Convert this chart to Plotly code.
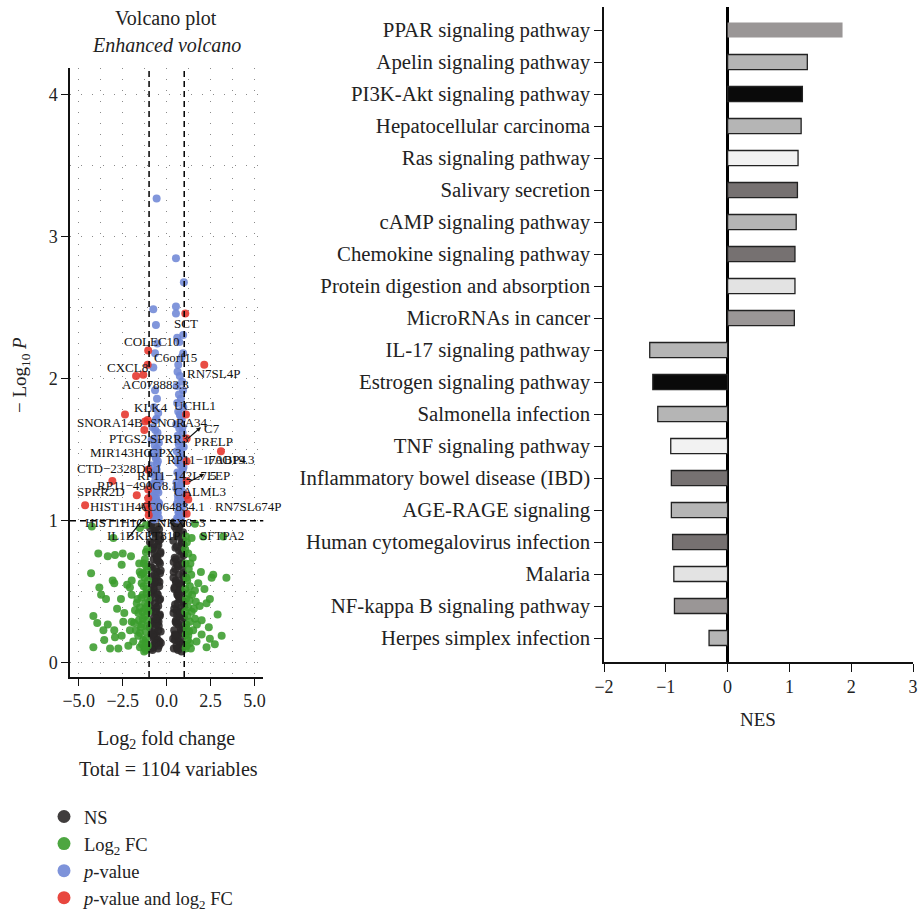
import plotly.graph_objects as go

W, H = 924, 913
FONT = "Liberation Serif"

# ---------------- Volcano data ----------------
NS_L_x = [-0.88,-0.52,-0.71,-0.40,-0.63,-0.95,-0.47,-0.80,-0.35,-0.58,
          -0.74,-0.44,-0.91,-0.61,-0.38,-0.83,-0.50,-0.68,-0.42,-0.77,
          -0.56,-0.93,-0.37,-0.65,-0.48,-0.86,-0.60,-0.39,-0.72,-0.53,
          -0.82,-0.45,-0.67,-0.34,-0.89,-0.57,-0.75,-0.41,-0.62,-0.79,
          -0.49,-0.94,-0.36,-0.70,-0.54,-0.85,-0.43,-0.64,-0.97,-0.51,
          -0.73,-0.38,-0.59,-0.87,-0.46,-0.69,-0.33,-0.81,-0.55,-0.66,
          -0.90,-0.62,-0.45,-0.78,-0.36,-0.55,-0.84,-0.68,-0.41,-0.73,
          -0.50,-0.96,-0.59,-0.39,-0.81,-0.47,-0.70,-0.63,-0.87,-0.43,
          -0.76,-0.53,-0.34,-0.66,-0.92,-0.57,-0.80,-0.44,-0.71,-0.60]
NS_L_y = [0.98,0.96,0.93,0.90,0.88,0.85,0.83,0.80,0.78,0.75,
          0.73,0.71,0.68,0.66,0.63,0.61,0.58,0.56,0.54,0.51,
          0.49,0.47,0.45,0.42,0.40,0.38,0.36,0.34,0.32,0.30,
          0.28,0.26,0.24,0.22,0.20,0.19,0.17,0.15,0.13,0.12,
          0.10,0.95,0.87,0.77,0.64,0.55,0.44,0.35,0.25,0.16,
          0.11,0.70,0.60,0.50,0.29,0.21,0.14,0.09,0.82,0.92,
          0.97,0.91,0.86,0.81,0.77,0.72,0.67,0.62,0.57,0.52,
          0.48,0.43,0.39,0.33,0.29,0.23,0.18,0.14,0.10,0.94,
          0.84,0.74,0.65,0.46,0.37,0.27,0.20,0.12,0.57,0.31]
NS_R_x = [0.42,0.77,0.55,0.93,0.64,0.38,0.86,0.50,0.71,0.98,
          0.46,0.82,0.59,0.90,0.40,0.68,0.95,0.53,0.79,0.44,
          0.88,0.61,0.74,0.97,0.48,0.84,0.57,0.39,0.72,0.92,
          0.51,0.66,0.99,0.43,0.81,0.62,0.89,0.47,0.76,0.56,
          0.94,0.41,0.69,0.85,0.52,0.96,0.45,0.73,0.60,0.87,
          0.37,0.80,0.65,0.91,0.49,0.70,1.00,0.54,0.83,0.58,
          0.45,0.70,0.92,0.58,0.83,0.40,0.66,0.96,0.52,0.78,
          0.61,0.88,0.43,0.74,0.99,0.55,0.81,0.47,0.69,0.94,
          0.59,0.85,0.39,0.75,0.63,0.90,0.50,0.79,0.67,0.97]
NS_R_y = [0.99,0.97,0.94,0.92,0.89,0.86,0.84,0.81,0.79,0.76,
          0.74,0.72,0.69,0.67,0.64,0.62,0.59,0.57,0.55,0.52,
          0.50,0.48,0.46,0.43,0.41,0.39,0.37,0.35,0.33,0.31,
          0.29,0.27,0.25,0.23,0.21,0.19,0.18,0.16,0.14,0.12,
          0.11,0.10,0.95,0.85,0.73,0.63,0.53,0.45,0.34,0.26,
          0.17,0.13,0.09,0.78,0.66,0.56,0.40,0.30,0.22,0.90,
          0.96,0.91,0.87,0.82,0.77,0.71,0.68,0.61,0.58,0.54,
          0.49,0.44,0.38,0.36,0.32,0.28,0.24,0.20,0.15,0.13,
          0.10,0.08,0.60,0.51,0.42,0.70,0.19,0.35,0.47,0.83]

FC_x = [-3.89,-3.35,-2.94,-2.50,-2.56,-2.03,-1.56,-1.18,-4.30,-3.07,
        -2.98,-3.83,-3.73,-1.99,-2.09,-1.46,-1.42,-1.36,-1.99,-1.70,
        -4.17,-2.41,-2.47,-3.35,-3.60,-2.98,-2.94,-3.55,-2.56,-2.09,
        -1.99,-1.61,-1.80,-1.42,-1.52,-1.33,-4.17,-3.22,-2.75,-2.18,
        -1.52,-1.18,-1.23,-1.23,-1.52,-1.12,-1.15,-1.25,-1.10,-1.30,
        -1.12,-1.20,-1.08,-1.38,-1.28,-4.26,-3.03,-1.52,-1.18,
        -1.06,-1.14,-1.22,-1.35,-1.48,-1.62,-1.09,-1.18,-1.27,-1.44,
        -1.58,-1.75,-1.05,-1.16,-1.31,-1.40,-1.66,-1.11,-1.24,-1.53,
        -1.85,-1.07,-1.19,-1.34,-1.90,-2.25,-2.60,-2.82,-3.45,-3.95,
        1.23,1.48,1.95,2.65,2.56,1.80,1.32,1.61,1.23,1.66,
        2.46,2.27,1.23,1.42,1.61,1.99,1.32,1.14,1.51,1.99,
        2.46,3.13,1.70,2.27,2.74,1.32,1.23,1.08,1.12,1.10,
        1.18,1.08,1.40,1.15,1.06,1.10,1.42,3.22,1.61,2.08,
        1.06,1.12,1.20,1.30,1.45,1.09,1.17,1.26,1.38,1.55,
        1.05,1.14,1.28,1.72,1.88,2.15,2.40,2.90,3.40,1.35]
FC_y = [0.77,0.75,0.76,0.77,0.69,0.75,0.70,0.78,0.63,0.58,
        0.56,0.53,0.48,0.58,0.53,0.62,0.56,0.48,0.48,0.42,
        0.33,0.35,0.29,0.27,0.23,0.23,0.18,0.16,0.19,0.23,
        0.29,0.35,0.37,0.27,0.21,0.16,0.11,0.10,0.10,0.12,
        0.11,0.14,0.42,0.33,0.39,0.65,0.52,0.60,0.40,0.70,
        0.30,0.22,0.12,0.36,0.08,0.96,0.88,0.95,0.97,
        0.58,0.49,0.38,0.31,0.25,0.19,0.26,0.17,0.11,0.46,
        0.30,0.23,0.36,0.68,0.54,0.13,0.45,0.80,0.73,0.64,
        0.28,0.45,0.09,0.63,0.15,0.55,0.45,0.38,0.45,0.28,
        0.77,0.74,0.64,0.62,0.60,0.56,0.54,0.51,0.49,0.43,
        0.45,0.42,0.39,0.36,0.31,0.30,0.29,0.24,0.23,0.20,
        0.17,0.19,0.15,0.11,0.13,0.14,0.19,0.70,0.60,0.45,
        0.33,0.10,0.62,0.85,0.52,0.89,0.88,0.89,0.98,0.89,
        0.36,0.27,0.16,0.44,0.48,0.20,0.58,0.66,0.10,0.38,
        0.80,0.12,0.22,0.27,0.40,0.52,0.25,0.34,0.60,0.70]

P_x = [-0.57,0.53,0.98,-0.76,0.53,0.53,-0.61,0.94,0.60,0.72,
       -0.53,0.94,-0.66,0.85,-0.76,0.66,
       0.62,0.75,0.88,0.57,0.93,0.70,0.81,0.60,0.95,0.66,
       0.78,0.86,0.55,0.72,0.91,0.63,0.84,0.69,0.97,0.58,
       0.76,0.89,0.65,0.80,0.92,0.61,0.73,0.87,0.56,0.83,
       0.68,0.94,0.64,0.79,0.90,0.59,0.74,0.85,0.67,0.96,
       0.71,0.82,0.62,0.88,0.77,
       0.60,0.84,0.70,0.92,0.65,0.78,0.55,0.88,0.73,0.96,
       0.63,0.81,0.68,0.90,0.75,
       -0.66,-0.55,-0.72,-0.48,-0.61,-0.80,-0.52,-0.69,-0.44,-0.58,
       -0.75,-0.63,-0.50,-0.85,-0.57,-0.70,-0.41,-0.64,-0.78,-0.54,
       -0.67,-0.47,-0.88,-0.60,-0.73,-0.43,-0.56,-0.82,-0.65,-0.51,
       -0.76,-0.59,-0.45,-0.71,-0.62,-0.39,-0.84,-0.53,-0.68,-0.90,
       -0.70,-0.52,-0.63,-0.46,-0.78,-0.57,-0.67,-0.42,-0.74,-0.55,
       -0.61,-0.49,-0.86,-0.65,-0.58]
P_y = [3.27,2.85,2.68,2.49,2.51,2.46,2.38,2.31,2.29,2.26,
       2.25,2.18,2.18,2.15,2.08,2.10,
       2.05,2.02,1.98,1.95,1.92,1.89,1.86,1.83,1.80,1.77,
       1.74,1.71,1.68,1.65,1.62,1.60,1.57,1.54,1.52,1.49,
       1.46,1.44,1.41,1.39,1.36,1.34,1.31,1.29,1.27,1.24,
       1.22,1.20,1.18,1.16,1.14,1.12,1.10,1.08,1.06,1.05,
       1.03,1.02,1.01,1.13,1.25,
       1.02,1.04,1.07,1.11,1.15,1.19,1.23,1.28,1.33,1.38,
       1.43,1.50,1.56,1.66,1.75,
       1.92,1.86,1.80,1.76,1.71,1.66,1.62,1.58,1.55,1.51,
       1.48,1.45,1.42,1.39,1.36,1.34,1.31,1.29,1.26,1.24,
       1.22,1.20,1.18,1.16,1.14,1.12,1.10,1.09,1.07,1.06,
       1.04,1.03,1.02,1.01,1.15,1.27,1.33,1.47,1.53,1.11,
       1.02,1.05,1.08,1.13,1.17,1.21,1.25,1.30,1.35,1.40,
       1.44,1.50,1.57,1.64,1.72]

PFC_x = [1.06,-1.05,-1.08,-1.33,-1.74,2.14,-2.37,-1.27,-1.08,-1.23,
         1.10,1.14,3.09,-3.09,-1.70,-4.64,-1.05,-1.10,1.14,1.14,
         1.14,1.23,1.14,-1.05,-1.05,-1.05,-1.02]
PFC_y = [2.46,2.20,2.10,2.03,2.02,2.10,1.75,1.64,1.71,1.70,
         1.75,1.58,1.49,1.28,1.18,1.11,1.16,1.11,1.42,1.28,
         1.18,1.15,1.05,1.36,1.22,1.08,1.04]

GENE_LABELS = ["SCT","COLEC10","C6orf15","CXCL8","RN7SL4P","AC078883.3","KLK4","UCHL1",
               "SNORA14B","SNORA34","C7","PTGS2","SPRR3","PRELP","MIR143HG","GPX3",
               "RP11−170O19.3","FABP4","CTD−2328D6.1","RP11−142L7.5","LEP","RP11−490G8.1",
               "SPRR2D","CALML3","HIST1H4C","AC064834.1","RN7SL674P","RNU4−1","HIST1H1C",
               "NKX6−3","IL1B","KRT81P","SFTPA2"]
GENE_LX = [0.28,-2.56,-0.85,-3.51,1.04,-2.65,-1.99,0.28,
           -5.21,-1.06,1.99,-3.41,-1.05,1.42,-4.47,-1.14,
           -0.10,2.22,-5.21,-1.80,2.18,-4.07,
           -5.21,0.28,-4.47,-1.74,2.65,-6.07,-4.75,
           -0.66,-3.51,-1.91,1.78]
GENE_LY = [2.39,2.26,2.15,2.08,2.04,1.96,1.80,1.81,
           1.69,1.69,1.65,1.58,1.58,1.56,1.48,1.48,
           1.43,1.43,1.37,1.32,1.32,1.25,
           1.21,1.21,1.10,1.10,1.10,0.99,0.99,
           0.99,0.90,0.90,0.90]

# connectors: label end -> point
CONN_FROM_X = [1.95, 2.14, -2.18, -0.92]
CONN_FROM_Y = [1.66, 1.33, 0.88, 1.50]
CONN_TO_X = [1.12, 1.20, -1.23, -1.00]
CONN_TO_Y = [1.57, 1.27, 1.03, 1.37]

FC_CUT = 1.0
P_CUT = 1.0

LEGEND_NAMES = ["NS", "Log<sub>2</sub> FC", "<i>p</i>-value", "<i>p</i>-value and log<sub>2</sub> FC"]
COLORS = ["#2b2828", "#3a9c2c", "#7087d6", "#e5332a"]

# ---------------- Bar data ----------------
PATHWAYS = ["PPAR signaling pathway", "Apelin signaling pathway", "PI3K-Akt signaling pathway",
            "Hepatocellular carcinoma", "Ras signaling pathway", "Salivary secretion",
            "cAMP signaling pathway", "Chemokine signaling pathway",
            "Protein digestion and absorption", "MicroRNAs in cancer",
            "IL-17 signaling pathway", "Estrogen signaling pathway", "Salmonella infection",
            "TNF signaling pathway", "Inflammatory bowel disease (IBD)", "AGE-RAGE signaling",
            "Human cytomegalovirus infection", "Malaria", "NF-kappa B signaling pathway",
            "Herpes simplex infection"]
NES = [1.86, 1.29, 1.21, 1.19, 1.14, 1.13, 1.11, 1.09, 1.09, 1.08,
       -1.26, -1.21, -1.13, -0.92, -0.91, -0.91, -0.89, -0.87, -0.86, -0.30]
BAR_COLORS = ["#9a9696", "#b5b5b5", "#0a0a0a", "#b5b5b5", "#f2f2f2", "#767171",
              "#b5b5b5", "#767171", "#e3e3e3", "#9a9696",
              "#b5b5b5", "#0a0a0a", "#b5b5b5", "#f2f2f2", "#767171", "#b5b5b5",
              "#767171", "#e3e3e3", "#9a9696", "#b5b5b5"]
BAR_EDGE_W = [0] + [1.3] * 19

fig = go.Figure()

MS = 8
vol = [(NS_L_x + NS_R_x, NS_L_y + NS_R_y), (FC_x, FC_y), (P_x, P_y), (PFC_x, PFC_y)]
for (xs, ys), col in zip(vol, COLORS):
    fig.add_trace(go.Scatter(x=xs, y=ys, mode="markers", xaxis="x", yaxis="y",
                             marker=dict(size=MS, color=col, opacity=0.88, line=dict(width=0)),
                             showlegend=False, hoverinfo="skip"))
for name, col in zip(LEGEND_NAMES, COLORS):
    fig.add_trace(go.Scatter(x=[None], y=[None], mode="markers", name=name, xaxis="x", yaxis="y",
                             marker=dict(size=13, color=col, opacity=0.9), showlegend=True))

fig.add_trace(go.Bar(x=NES, y=PATHWAYS, orientation="h", xaxis="x2", yaxis="y2", width=0.47,
                     marker=dict(color=BAR_COLORS, line=dict(color="#222222", width=BAR_EDGE_W)),
                     showlegend=False))

grid = dict(showgrid=True, gridcolor="#8a8a8a", gridwidth=1, griddash="1px,10px")
axis_common = dict(showline=True, linecolor="#111111", linewidth=1.5, ticks="outside",
                   ticklen=7, tickwidth=1.3, tickcolor="#111111", zeroline=False,
                   automargin=False,
                   tickfont=dict(family=FONT, size=18, color="#222222"))

def py(p):
    return 1 - p / H

def px(p):
    return p / W

fig.update_layout(
    width=W, height=H, margin=dict(l=0, r=0, t=0, b=0, autoexpand=False),
    paper_bgcolor="white", plot_bgcolor="white",
    font=dict(family=FONT, color="#222222"),
    xaxis=dict(domain=[px(70), px(263.3)], anchor="y", range=[-5.5, 5.5],
               tickvals=[-5, -2.5, 0, 2.5, 5], tickformat=".1f",
               minor=dict(dtick=1.25, tick0=0, showgrid=True, gridcolor="#8a8a8a",
                          griddash="1px,10px", gridwidth=1),
               **grid, **axis_common),
    yaxis=dict(domain=[py(677), py(68)], anchor="x", range=[-0.1, 4.19],
               tickvals=[0, 1, 2, 3, 4],
               minor=dict(dtick=0.5, tick0=0, showgrid=True, gridcolor="#8a8a8a",
                          griddash="1px,10px", gridwidth=1),
               **grid, **axis_common),
    xaxis2=dict(domain=[px(604), px(913)], anchor="y2", range=[-2, 3], dtick=1,
                showgrid=False, **{**axis_common, "zeroline": True, "ticklen": 8},
                zerolinecolor="#000000", zerolinewidth=2.5),
    yaxis2=dict(domain=[py(662), py(7)], anchor="x2", type="category",
                categoryorder="array", categoryarray=PATHWAYS,
                range=[19.75, -0.72], showgrid=False,
                **{**axis_common, "ticklen": 8,
                   "tickfont": dict(family=FONT, size=20.8, color="#222222")}),
    legend=dict(x=px(44), y=py(798), xanchor="left", yanchor="top",
                font=dict(family=FONT, size=18.5, color="#222222"),
                tracegroupgap=0, itemwidth=30, bgcolor="rgba(0,0,0,0)"),
)

shapes = [
    dict(type="line", xref="x", yref="y domain", x0=-FC_CUT, x1=-FC_CUT, y0=0, y1=1,
         line=dict(color="black", width=1.5, dash="6px,4px")),
    dict(type="line", xref="x", yref="y domain", x0=FC_CUT, x1=FC_CUT, y0=0, y1=1,
         line=dict(color="black", width=1.5, dash="6px,4px")),
    dict(type="line", xref="x domain", yref="y", x0=0, x1=1, y0=P_CUT, y1=P_CUT,
         line=dict(color="black", width=1.5, dash="6px,4px")),
]
fig.update_layout(shapes=shapes)

ann = []
for t, x, y in zip(GENE_LABELS, GENE_LX, GENE_LY):
    ann.append(dict(text=t, x=x, y=y, xref="x", yref="y", xanchor="left", yanchor="middle",
                    showarrow=False, font=dict(family=FONT, size=13, color="#111111")))
for i, (x0, y0, x1, y1) in enumerate(zip(CONN_FROM_X, CONN_FROM_Y, CONN_TO_X, CONN_TO_Y)):
    ann.append(dict(text="", x=x0, y=y0, ax=x1, ay=y1, xref="x", yref="y", axref="x", ayref="y",
                    showarrow=True, arrowhead=2 if i < 2 else 0, arrowsize=0.7,
                    arrowwidth=1.3, arrowcolor="#111111"))

def paper_text(text, x, y, size, angle=0):
    return dict(text=text, x=px(x), y=py(y), xref="paper", yref="paper",
                xanchor="center", yanchor="middle", textangle=angle,
                showarrow=False, font=dict(family=FONT, size=size, color="#222222"))

ann += [
    paper_text("Volcano plot", 166, 19, 20),
    paper_text("<i>Enhanced volcano</i>", 166, 45, 20),
    paper_text("Log<sub>2</sub> fold change", 166, 739, 20),
    paper_text("Total = 1104 variables", 168, 769, 20),
    paper_text("− Log<sub>10</sub> <i>P</i>", 21, 375, 19, -90),
    paper_text("NES", 758, 719, 19),
]
fig.update_layout(annotations=ann)

fig.write_html("out.html", config={"displayModeBar": False},
               post_script="document.body.style.margin='0';")
